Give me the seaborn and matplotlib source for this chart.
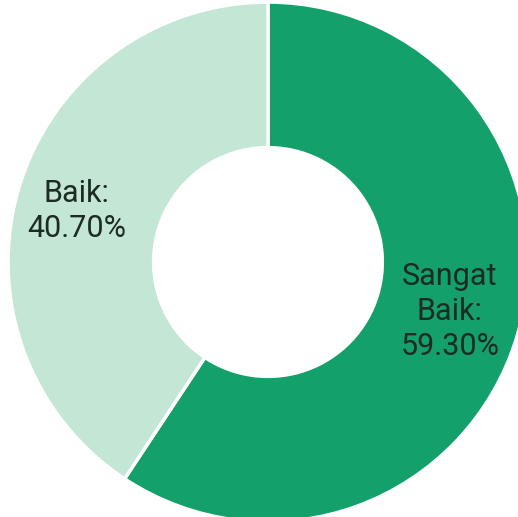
import matplotlib
matplotlib.use("Agg")
import matplotlib.pyplot as plt
import seaborn as sns

# data
labels = ["Sangat\nBaik", "Baik"]
values = [59.30, 40.70]
colors = ["#13a06a", "#c4e6d5"]

sns.set_theme(style="white")
plt.rcParams['font.family'] = ['Roboto', 'DejaVu Sans']

fig = plt.figure(figsize=(5.18, 5.17), dpi=100)
ax = fig.add_axes([0, 0, 1, 1])

wedges, _ = ax.pie(
    values,
    colors=colors,
    startangle=90,
    counterclock=False,
    radius=1.0,
    wedgeprops=dict(width=0.56, edgecolor="white", linewidth=2.5),
)

# labels placed inside the ring
label_pos = [(0.70, -0.19), (-0.735, 0.196)]
for lab, val, (x, y) in zip(labels, values, label_pos):
    ax.text(x, y, f"{lab}:\n{val:.2f}%", ha="center", va="center",
            multialignment="center", fontsize=22, color="#1c2b23",
            linespacing=1.25)

ax.set_xlim(-1.031, 0.962)
ax.set_ylim(-0.981, 1.008)
ax.set_aspect("auto")
ax.axis("off")

fig.savefig("out.png", dpi=100, facecolor="white")
